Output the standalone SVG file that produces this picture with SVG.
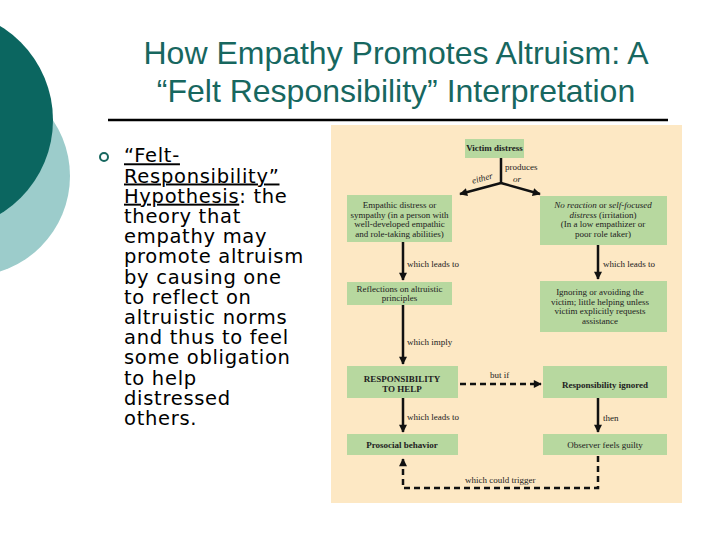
<svg xmlns="http://www.w3.org/2000/svg" width="720" height="540" viewBox="0 0 720 540">
<defs>
<style>
.title{font-family:"Liberation Sans",Arial,sans-serif;font-size:32px;fill:#17675f;text-anchor:middle}
.body{font-family:"DejaVu Sans",Verdana,sans-serif;font-size:19.5px;letter-spacing:0.7px;fill:#000}
.box{fill:#b7d89f}
.t{font-family:"Liberation Serif","Times New Roman",serif;font-size:9px;fill:#222;text-anchor:middle}
.b{font-weight:bold}
.lbl{font-family:"Liberation Serif","Times New Roman",serif;font-size:9px;fill:#222}
.c{stroke:#111;stroke-width:2.5;fill:none}
.d{stroke:#111;stroke-width:2.5;fill:none;stroke-dasharray:6 4}
</style>
<marker id="ah" viewBox="0 0 10 10" refX="9" refY="5" markerWidth="9" markerHeight="8" markerUnits="userSpaceOnUse" orient="auto">
<path d="M0,0 L10,5 L0,10 Z" fill="#111"/>
</marker>
</defs>
<rect width="720" height="540" fill="#fff"/>
<circle cx="-30" cy="176" r="100" fill="#9ccccb"/>
<circle cx="-57" cy="120" r="110" fill="#0b6660"/>
<text class="title" x="396" y="64">How Empathy Promotes Altruism: A</text>
<text class="title" x="396" y="102">“Felt Responsibility” Interpretation</text>
<line x1="108" y1="120" x2="668" y2="120" stroke="#000" stroke-width="2.5"/>
<circle cx="104" cy="157" r="4" fill="#fff" stroke="#17675f" stroke-width="2"/>
<text class="body">
<tspan x="124" y="162.3" text-decoration="underline">“Felt-</tspan>
<tspan x="124" y="182.5" text-decoration="underline">Responsibility”</tspan>
<tspan x="124" y="202.7"><tspan text-decoration="underline">Hypothesis</tspan>: the</tspan>
<tspan x="124" y="222.9">theory that</tspan>
<tspan x="124" y="243.1">empathy may</tspan>
<tspan x="124" y="263.3">promote altruism</tspan>
<tspan x="124" y="283.5">by causing one</tspan>
<tspan x="124" y="303.7">to reflect on</tspan>
<tspan x="124" y="323.9">altruistic norms</tspan>
<tspan x="124" y="344.1">and thus to feel</tspan>
<tspan x="124" y="364.3">some obligation</tspan>
<tspan x="124" y="384.5">to help</tspan>
<tspan x="124" y="404.7">distressed</tspan>
<tspan x="124" y="424.9">others.</tspan>
</text>
<rect x="331" y="125" width="351" height="378" fill="#fde8c4"/>
<g id="connectors">
<line class="c" x1="501" y1="158" x2="501" y2="183"/>
<line class="c" x1="501" y1="183" x2="460" y2="194" marker-end="url(#ah)"/>
<line class="c" x1="501" y1="183" x2="540" y2="194" marker-end="url(#ah)"/>
<line class="c" x1="403" y1="242" x2="403" y2="280" marker-end="url(#ah)"/>
<line class="c" x1="598" y1="245" x2="598" y2="279" marker-end="url(#ah)"/>
<line class="c" x1="403" y1="305" x2="403" y2="364" marker-end="url(#ah)"/>
<line class="d" x1="460" y1="384" x2="541" y2="384" marker-end="url(#ah)"/>
<line class="c" x1="403" y1="398" x2="403" y2="432" marker-end="url(#ah)"/>
<line class="c" x1="598" y1="398" x2="598" y2="432" marker-end="url(#ah)"/>
<path class="d" d="M598,456 V488 H403 V459" marker-end="url(#ah)"/>
<text class="lbl" x="505" y="170">produces</text>
<text class="lbl" x="483" y="181" transform="rotate(-15 483 181)" text-anchor="middle" font-style="italic">either</text>
<text class="lbl" x="513" y="182" font-style="italic">or</text>
<text class="lbl" x="407" y="267">which leads to</text>
<text class="lbl" x="603" y="267">which leads to</text>
<text class="lbl" x="407" y="345">which imply</text>
<text class="lbl" x="490" y="378">but if</text>
<text class="lbl" x="407" y="420">which leads to</text>
<text class="lbl" x="603" y="421">then</text>
<text class="lbl" x="465" y="483">which could trigger</text>
</g>
<g id="victim"><rect class="box" x="465" y="139" width="59" height="19"/><text class="t b" x="494.5" y="151">Victim distress</text></g>
<g id="empathic"><rect class="box" x="347" y="195" width="105" height="47"/>
<text class="t" x="399.5" y="208">Empathic distress or</text>
<text class="t" x="399.5" y="217.5">sympathy (in a person with</text>
<text class="t" x="399.5" y="227">well-developed empathic</text>
<text class="t" x="399.5" y="236.5">and role-taking abilities)</text></g>
<g id="noreaction"><rect class="box" x="540" y="196" width="127" height="49"/>
<text class="t" x="603" y="208"><tspan font-style="italic">No reaction</tspan> or <tspan font-style="italic">self-focused</tspan></text>
<text class="t" x="603" y="217.5"><tspan font-style="italic">distress</tspan> (irritation)</text>
<text class="t" x="603" y="227">(In a low empathizer or</text>
<text class="t" x="603" y="236.5">poor role taker)</text></g>
<g id="reflections"><rect class="box" x="347" y="282" width="105" height="23"/>
<text class="t" x="399.5" y="292">Reflections on altruistic</text>
<text class="t" x="399.5" y="300.5">principles</text></g>
<g id="ignoring"><rect class="box" x="540" y="281" width="127" height="51"/>
<text class="t" x="600" y="295">Ignoring or avoiding the</text>
<text class="t" x="600" y="304.5">victim; little helping unless</text>
<text class="t" x="600" y="314">victim explicitly requests</text>
<text class="t" x="600" y="323.5">assistance</text></g>
<g id="responsibility"><rect class="box" x="347" y="366" width="111" height="32"/>
<text class="t b" x="402" y="382">RESPONSIBILITY</text>
<text class="t b" x="402" y="392">TO HELP</text></g>
<g id="ignored"><rect class="box" x="543" y="366" width="124" height="32"/>
<text class="t b" x="605" y="388">Responsibility ignored</text></g>
<g id="prosocial"><rect class="box" x="347" y="434" width="111" height="21"/>
<text class="t b" x="402" y="448">Prosocial behavior</text></g>
<g id="guilty"><rect class="box" x="543" y="434" width="124" height="21"/>
<text class="t" x="605" y="448">Observer feels guilty</text></g>
</svg>
